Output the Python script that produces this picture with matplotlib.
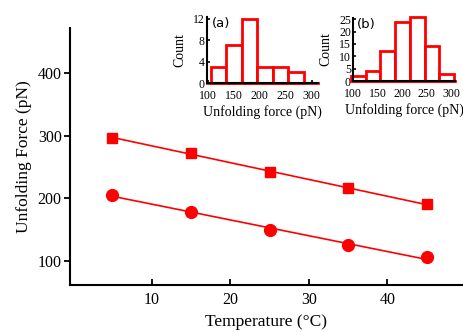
import numpy as np
import matplotlib
matplotlib.use("Agg")
import matplotlib.pyplot as plt

# Main data
temperature = [5, 15, 25, 35, 45]
force_square = [297, 272, 243, 216, 191]
force_circle = [206, 178, 150, 126, 106]

# Inset (a) histogram
bins_a = [105, 135, 165, 195, 225, 255, 285]
counts_a = [3, 7, 12, 3, 3, 2]
# Inset (b) histogram
bins_b = [96, 126, 156, 186, 216, 246, 276, 306]
counts_b = [2, 4, 12, 24, 26, 14, 3]

W, H = 464, 332
plt.rcParams['font.family'] = ['Liberation Serif', 'DejaVu Serif']
fig = plt.figure(figsize=(W / 100, H / 100), dpi=100)

def rect(l, r, t, b):
    return [l / W, 1 - b / H, (r - l) / W, (b - t) / H]

red = '#ff0000'
ax = fig.add_axes(rect(70, 462, 28, 285))
t = np.array(temperature)
for ys, mk, ms in [(force_square, 's', 7), (force_circle, 'o', 8.5)]:
    p = np.polyfit(t, ys, 1)
    ax.plot(t, np.polyval(p, t), color=red, lw=1.2, zorder=2)
    ax.plot(t, ys, mk, color=red, ms=ms, zorder=3, clip_on=False)
ax.set_xlim(-0.4, 49.5)
ax.set_ylim(62, 472)
ax.set_xticks([10, 20, 30, 40])
ax.set_yticks([100, 200, 300, 400])
for s in ['top', 'right']:
    ax.spines[s].set_visible(False)
for s in ['left', 'bottom']:
    ax.spines[s].set_linewidth(1.5)
ax.tick_params(axis='x', direction='in', length=4, width=1.3, labelsize=11.5, pad=5)
ax.tick_params(axis='y', direction='out', length=4, width=1.3, labelsize=11.5, pad=2)
ax.set_xlabel('Temperature (°C)', fontsize=12.5, labelpad=4)
ax.set_ylabel('Unfolding Force (pN)', fontsize=12.5, labelpad=4)

def inset(box, bins, counts, ylim, yticks, xlim, label):
    a = fig.add_axes(rect(*box))
    a.bar(bins[:-1], counts, width=np.diff(bins), align='edge', facecolor='white',
          edgecolor=red, lw=2.0, clip_on=False, zorder=2)
    a.axhline(0, color=red, lw=2.0, zorder=3, clip_on=False)
    a.set_xlim(*xlim)
    a.set_ylim(*ylim)
    a.set_xticks([100, 150, 200, 250, 300])
    a.set_yticks(yticks)
    for s in ['top', 'right']:
        a.spines[s].set_visible(False)
    for s in ['left', 'bottom']:
        a.spines[s].set_linewidth(1.5)
        a.spines[s].set_zorder(4)
    a.tick_params(direction='in', length=2.5, width=1.2, labelsize=8.5, pad=1.5)
    a.tick_params(axis='x', pad=5)
    a.set_xlabel('Unfolding force (pN)', fontsize=10, labelpad=2)
    a.set_ylabel('Count', fontsize=10, labelpad=5)
    a.text(0.04, 1.0, label, transform=a.transAxes, fontsize=9.5,
           family='DejaVu Sans', ha='left', va='top')
    a.patch.set_alpha(0)
    return a

inset((207, 318, 17, 83), bins_a, counts_a, (0, 12.3), [0, 4, 8, 12], (98, 312), '(a)')
inset((353, 455, 18, 81), bins_b, counts_b, (0, 25.5), [0, 5, 10, 15, 20, 25], (102, 308), '(b)')

fig.savefig('out.png', dpi=100)
